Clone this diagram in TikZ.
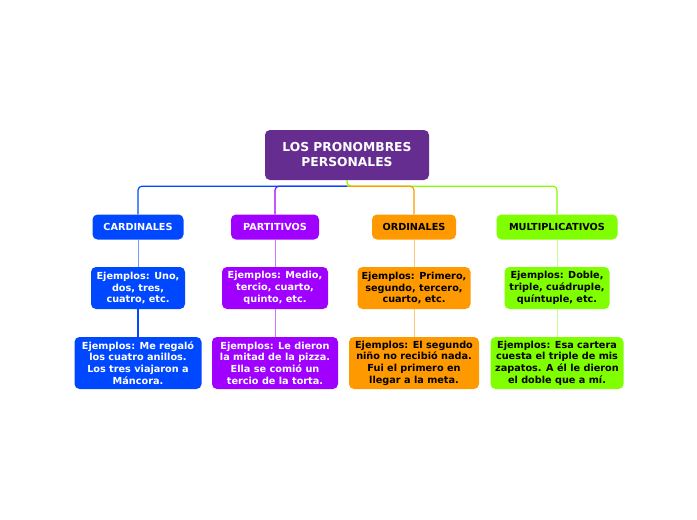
\documentclass[tikz,border=0pt]{standalone}
\usepackage{fontspec}
\setmainfont{DejaVu Sans}
\definecolor{raiz}{HTML}{662D91}
\definecolor{azul}{HTML}{0048FF}
\definecolor{morado}{HTML}{A000FF}
\definecolor{naranja}{HTML}{FF9900}
\definecolor{verde}{HTML}{80FF00}
\begin{document}
\begin{tikzpicture}[x=1pt,y=-1pt,
  caja/.style={rounded corners=5pt,align=center,inner sep=0pt,font=\fontsize{9.7}{11.7}\selectfont\bfseries},
  blanca/.style={caja,text=white},
  negra/.style={caja,text=black},
  rama/.style={line width=1.2pt,rounded corners=4pt}]
\useasboundingbox (0,0) rectangle (697,520);
\node[blanca,fill=raiz,minimum width=164pt,minimum height=50pt,font=\fontsize{12.3}{15}\selectfont\bfseries] (root) at (347,155){LOS PRONOMBRES\\PERSONALES};
% primer nivel
\node[blanca,fill=azul,minimum width=91pt,minimum height=25pt] (card) at (138,227){CARDINALES};
\node[blanca,fill=morado,minimum width=88pt,minimum height=25pt] (part) at (275,227){PARTITIVOS};
\node[negra,fill=naranja,minimum width=84pt,minimum height=25pt] (ord) at (414,227){ORDINALES};
\node[negra,fill=verde,minimum width=121pt,minimum height=25pt] (mult) at (557,227){MULTIPLICATIVOS};
% segundo nivel
\node[blanca,fill=azul,minimum width=94pt,minimum height=42pt] (card2) at (138,288){Ejemplos: Uno,\\dos, tres,\\cuatro, etc.};
\node[blanca,fill=morado,minimum width=106pt,minimum height=42pt] (part2) at (275,288){Ejemplos: Medio,\\tercio, cuarto,\\quinto, etc.};
\node[negra,fill=naranja,minimum width=113pt,minimum height=42pt] (ord2) at (414,288){Ejemplos: Primero,\\segundo, tercero,\\cuarto, etc.};
\node[negra,fill=verde,minimum width=105pt,minimum height=42pt] (mult2) at (557,288){Ejemplos: Doble,\\triple, cuádruple,\\quíntuple, etc.};
% tercer nivel
\node[blanca,fill=azul,minimum width=127pt,minimum height=52pt] (card3) at (138,363){Ejemplos: Me regaló\\los cuatro anillos.\\Los tres viajaron a\\Máncora.};
\node[blanca,fill=morado,minimum width=126pt,minimum height=52pt] (part3) at (275,363){Ejemplos: Le dieron\\la mitad de la pizza.\\Ella se comió un\\tercio de la torta.};
\node[negra,fill=naranja,minimum width=130pt,minimum height=52pt] (ord3) at (414,363){Ejemplos: El segundo\\niño no recibió nada.\\Fui el primero en\\llegar a la meta.};
\node[negra,fill=verde,minimum width=133pt,minimum height=52pt] (mult3) at (557,363){Ejemplos: Esa cartera\\cuesta el triple de mis\\zapatos. A él le dieron\\el doble que a mí.};
% ramas desde la raiz
\draw[rama,verde] (root.south) -- ++(0,6) -| (mult.north);
\draw[rama,naranja] (root.south) ++(0,6) -| (ord.north);
\draw[rama,morado] (root.south) ++(0,6) -| (part.north);
\draw[rama,azul] (root.south) ++(0,6) -| (card.north);
% ramas verticales
\draw[azul!55,line width=0.8pt] (card) -- (card2);
\draw[azul,line width=2.5pt] (card2) -- (card3);
\draw[morado!55,line width=0.8pt] (part) -- (part2) -- (part3);
\draw[naranja!55,line width=0.8pt] (ord) -- (ord2) -- (ord3);
\draw[verde!45,line width=0.8pt] (mult) -- (mult2) -- (mult3);
\end{tikzpicture}
\end{document}
